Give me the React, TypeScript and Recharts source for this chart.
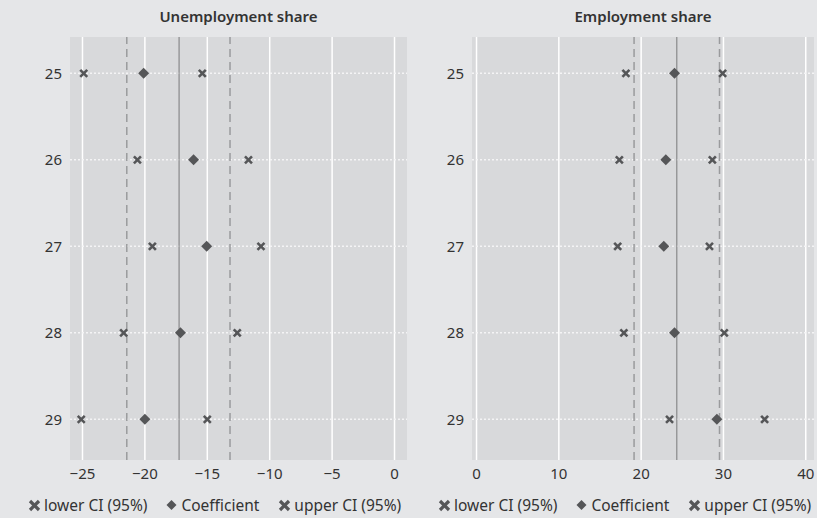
import { ScatterChart, Scatter, XAxis, YAxis, CartesianGrid, ReferenceLine, Legend } from 'recharts';

const ages = [25, 26, 27, 28, 29];

const unempLower = [-24.9, -20.6, -19.4, -21.7, -25.1];
const unempCoef = [-20.1, -16.1, -15.05, -17.15, -20.0];
const unempUpper = [-15.4, -11.7, -10.7, -12.6, -15.0];
const unempLines = [-21.45, -17.26, -13.18];
const unempTicks = [-25, -20, -15, -10, -5, 0];

const empLower = [18.15, 17.35, 17.15, 17.9, 23.45];
const empCoef = [24.05, 23.0, 22.75, 24.05, 29.2];
const empUpper = [29.9, 28.65, 28.3, 30.1, 35.0];
const empLines = [19.14, 24.33, 29.52];
const empTicks = [0, 10, 20, 30, 40];

const FONT = '"Noto Sans", sans-serif';
const MARK = '#555658';
const OUTER_BG = '#e5e6e8';
const PLOT_BG = '#d8d9db';

const toPoints = (vals: number[]) => ages.map((a, i) => ({ x: vals[i], y: a }));
const fmtTick = (v: number) => (v < 0 ? `\u2212${Math.abs(v)}` : `${v}`);

const XMark = (props: any) => {
  const { cx, cy } = props;
  const r = 3.5;
  return (
    <g>
      <line x1={cx - r} y1={cy - r} x2={cx + r} y2={cy + r} stroke={MARK} strokeWidth={2.6} />
      <line x1={cx - r} y1={cy + r} x2={cx + r} y2={cy - r} stroke={MARK} strokeWidth={2.6} />
    </g>
  );
};

const Diamond = (props: any) => {
  const { cx, cy } = props;
  const r = 5.5;
  return <polygon points={`${cx},${cy - r} ${cx + r},${cy} ${cx},${cy + r} ${cx - r},${cy}`} fill={MARK} />;
};

const CrossIcon = () => (
  <svg width={13} height={13}>
    <line x1={2} y1={2} x2={11} y2={11} stroke={MARK} strokeWidth={3.2} />
    <line x1={2} y1={11} x2={11} y2={2} stroke={MARK} strokeWidth={3.2} />
  </svg>
);

const LegendBox = () => (
  <div style={{ display: 'flex', justifyContent: 'flex-start', alignItems: 'center', gap: 19, fontFamily: FONT, fontSize: 15.5, color: '#333', paddingLeft: 28, paddingTop: 4, whiteSpace: 'nowrap' }}>
    <span style={{ display: 'flex', alignItems: 'center', gap: 3 }}>
      <CrossIcon />
      lower CI (95%)
    </span>
    <span style={{ display: 'flex', alignItems: 'center', gap: 4 }}>
      <svg width={11} height={12}><polygon points="5.5,1 10.5,6 5.5,11 0.5,6" fill={MARK} /></svg>
      Coefficient
    </span>
    <span style={{ display: 'flex', alignItems: 'center', gap: 3 }}>
      <CrossIcon />
      upper CI (95%)
    </span>
  </div>
);

interface PanelProps {
  title: string;
  lower: number[];
  coef: number[];
  upper: number[];
  lines: number[];
  ticks: number[];
  domain: [number, number];
  yWidth: number;
  width: number;
}

function Panel({ title, lower, coef, upper, lines, ticks, domain, yWidth, width }: PanelProps) {
  const plotCenter = yWidth + (width - yWidth - 3) / 2;
  return (
    <div style={{ position: 'relative', width, height: 518 }}>
      <div style={{ position: 'absolute', top: 6, left: plotCenter - 150, width: 300, textAlign: 'center', fontFamily: FONT, fontSize: 15, fontWeight: 600, color: '#333' }}>
        {title}
      </div>
      <ScatterChart width={width} height={518} margin={{ top: 37, right: 3, left: 0, bottom: 0 }}>
        <CartesianGrid fill={PLOT_BG} stroke="none" horizontal={false} vertical={false} />
        <XAxis
          type="number"
          dataKey="x"
          domain={domain}
          ticks={ticks}
          allowDataOverflow
          tickLine={false}
          axisLine={false}
          height={30}
          tickFormatter={fmtTick}
          tick={{ fill: '#333', fontSize: 15, fontFamily: FONT }}
        />
        <YAxis
          type="number"
          dataKey="y"
          domain={[24.58, 29.47]}
          ticks={ages}
          reversed
          allowDataOverflow
          tickLine={false}
          axisLine={false}
          width={yWidth}
          tick={{ fill: '#333', fontSize: 15, fontFamily: FONT }}
        />
        {ticks.map((t) => (
          <ReferenceLine key={`v${t}`} x={t} stroke="#ffffff" strokeWidth={1.5} />
        ))}
        {ages.map((a) => (
          <ReferenceLine key={`h${a}`} y={a} stroke="#f4f4f5" strokeWidth={1.5} strokeDasharray="2 2" />
        ))}
        <ReferenceLine x={lines[0]} stroke="#9a9b9d" strokeWidth={1.5} strokeDasharray="8 5" />
        <ReferenceLine x={lines[1]} stroke="#88898b" strokeWidth={1.2} />
        <ReferenceLine x={lines[2]} stroke="#9a9b9d" strokeWidth={1.5} strokeDasharray="8 5" />
        <Scatter name="lower CI (95%)" data={toPoints(lower)} shape={XMark} isAnimationActive={false} />
        <Scatter name="Coefficient" data={toPoints(coef)} shape={Diamond} isAnimationActive={false} />
        <Scatter name="upper CI (95%)" data={toPoints(upper)} shape={XMark} isAnimationActive={false} />
        <Legend verticalAlign="bottom" height={28} content={() => <LegendBox />} />
      </ScatterChart>
    </div>
  );
}

export default function App() {
  return (
    <div style={{ position: 'absolute', left: 0, top: 0, width: 817, height: 518, background: OUTER_BG, display: 'flex' }}>
      <Panel title="Unemployment share" lower={unempLower} coef={unempCoef} upper={unempUpper} lines={unempLines} ticks={unempTicks} domain={[-26, 1]} yWidth={70} width={410} />
      <Panel title="Employment share" lower={empLower} coef={empCoef} upper={empUpper} lines={empLines} ticks={empTicks} domain={[-0.55, 41]} yWidth={62} width={407} />
    </div>
  );
}
